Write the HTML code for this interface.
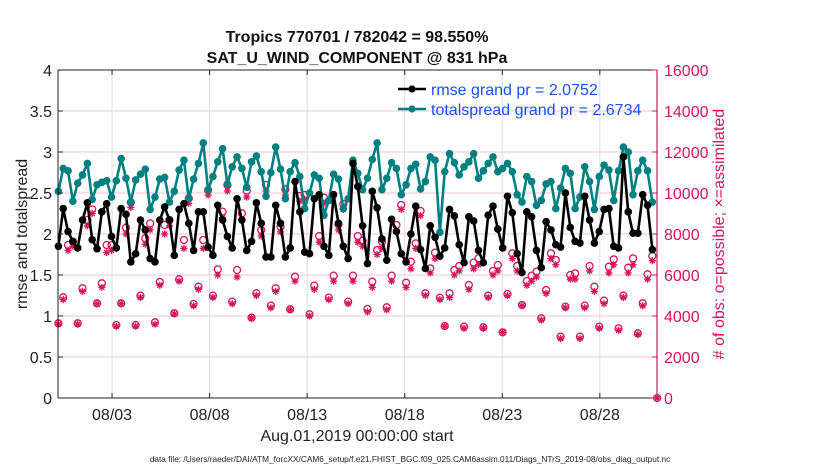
<!DOCTYPE html>
<html><head><meta charset="utf-8"><style>
body{margin:0;background:#fff;width:830px;height:470px;overflow:hidden;font-family:"Liberation Sans",Arial,sans-serif}
svg text{font-family:"Liberation Sans",Arial,sans-serif}
</style></head><body>
<svg id="c" width="830" height="470" viewBox="0 0 830 470"></svg>
<script>
const dateTicks=[2,7,12,17,22,27];
const dateLabels=["08/03","08/08","08/13","08/18","08/23","08/28"];
const leftTicks=[0,0.5,1,1.5,2,2.5,3,3.5,4];
const leftTickLabels=["0","0.5","1","1.5","2","2.5","3","3.5","4"];
const rightTicks=[0,2000,4000,6000,8000,10000,12000,14000,16000];
const rmse=[1.85,2.31,2.03,1.91,1.83,2.17,2.38,1.93,1.82,2.27,2.37,1.97,1.83,2.31,2.24,1.66,1.76,2.17,2.05,1.70,1.66,2.17,2.33,2.17,1.74,2.30,2.37,2.13,1.80,2.27,2.27,1.84,
1.74,2.35,2.17,1.97,1.83,2.43,2.17,1.80,1.91,2.38,2.13,1.72,1.72,2.35,2.13,1.72,1.83,2.64,2.27,1.78,1.76,2.43,2.48,1.85,1.74,2.48,2.13,1.85,1.70,2.86,2.58,
2.10,1.64,2.52,2.32,1.94,1.68,2.18,2.03,1.76,1.66,2.00,2.34,1.81,1.58,2.10,1.96,1.73,1.83,2.30,2.22,1.87,1.65,2.21,2.16,1.80,1.65,2.23,2.34,2.06,1.83,2.46,
2.26,1.76,1.53,2.27,2.21,1.80,1.59,2.15,2.05,1.87,1.84,2.50,2.08,1.91,1.89,2.46,2.17,1.89,2.03,2.30,2.31,1.85,1.83,2.94,2.27,2.01,2.01,2.48,2.35,1.81];
const spread=[2.52,2.80,2.77,2.40,2.62,2.72,2.86,2.42,2.60,2.63,2.65,2.45,2.65,2.92,2.68,2.39,2.66,2.73,2.79,2.30,2.45,2.67,2.69,2.39,2.52,2.78,2.90,2.43,2.67,2.86,3.11,2.54,
2.70,2.88,3.04,2.61,2.82,2.94,2.80,2.57,2.88,2.95,2.76,2.46,2.75,3.06,2.79,2.43,2.76,2.87,2.70,2.31,2.50,2.72,2.68,2.23,2.41,2.73,2.67,2.31,2.43,2.90,2.74,
2.54,2.68,2.91,3.11,2.54,2.68,2.87,2.80,2.48,2.60,2.80,2.85,2.55,2.64,2.94,2.90,2.02,2.76,2.98,2.87,2.72,2.82,2.88,2.98,2.68,2.77,2.86,2.94,2.76,2.80,2.86,
2.76,2.48,2.39,2.70,2.64,2.35,2.41,2.61,2.64,2.31,2.56,2.80,2.74,2.31,2.45,2.82,2.64,2.30,2.70,2.84,2.78,2.41,2.77,3.06,3.00,2.48,2.77,2.90,2.77,2.39];
const obsPossible=[3644,4911,7463,7626,3644,5350,8683,9203,4618,5594,7463,7463,3561,4618,8309,9545,3561,4992,7789,8520,3691,5659,8439,8683,4130,5789,7707,9740,4585,5431,7707,10146,
4992,6276,9090,10390,4700,6244,9008,10113,3919,5106,8195,10390,4505,5350,8357,10179,4326,5919,9854,9902,4082,5480,7902,9773,4895,5968,8471,9463,4700,5968,7902,
7675,4341,5675,7219,7626,4423,5968,8439,9415,5626,6650,7544,9122,5106,6325,7089,4895,3512,5106,6244,6439,3480,5512,6602,6812,3447,4992,6195,6488,3203,5073,
7057,6439,4537,5707,5968,6163,3886,5268,7057,6732,2992,4456,6000,6081,2992,4505,6439,5431,3480,4748,6406,6764,3398,4992,6357,6812,3155,4618,6033,6927,0];
const obsAssim=[3600,4800,7200,7400,3600,5200,8400,9000,4600,5400,7100,7200,3500,4600,8000,9300,3500,4900,7500,8200,3600,5500,8000,8400,4100,5700,7300,9500,4500,5300,7300,9900,
4900,6000,8800,10100,4600,5900,8700,9800,3900,5000,7900,10100,4400,5200,8100,9900,4300,5700,9600,9700,4000,5300,7600,9500,4800,5700,8200,9200,4600,5700,7600,
7400,4200,5400,7000,7300,4300,5700,8200,9200,5400,6300,7300,8900,5000,6100,6800,4800,3500,4900,6000,6200,3400,5300,6300,6500,3400,4900,6000,6200,3200,5000,
6800,6200,4500,5500,5700,5900,3800,5100,6800,6500,2900,4400,5800,5800,2900,4400,6200,5200,3400,4600,6100,6500,3300,4900,6100,6500,3100,4500,5800,6700,0];

const NS="http://www.w3.org/2000/svg";
const svg=document.getElementById('c');
const L=58,R=657,T=70,B=398;
const T0=-0.77,T1=29.93;
const xS=t=>L+(t-T0)/(T1-T0)*(R-L);
const yL=v=>B-v/4*(B-T);
const yR=v=>B-v/16000*(B-T);
const tAt=i=>-0.75+0.2475*i;
const MAG="#d4145a",TEAL="#008080";
function mk(tag,a,p){const e=document.createElementNS(NS,tag);for(const k in a)e.setAttribute(k,a[k]);(p||svg).appendChild(e);return e;}

rightTicks.forEach((v,i)=>{const g=mk('line',{x1:L,x2:R,y1:yR(v),y2:yR(v),stroke:'#f2c6d6','stroke-width':1});

});
dateTicks.forEach(d=>{const g=mk('line',{x1:xS(d),x2:xS(d),y1:T,y2:B,stroke:'#dcdcdc','stroke-width':1});

});

const obsG=mk('g',{});


obsPossible.forEach((v,i)=>{const c=mk('circle',{cx:xS(tAt(i)),cy:yR(v),r:3.5,fill:'none',stroke:MAG,'stroke-width':1.3},obsG);

});
obsAssim.forEach((v,i)=>{const x=xS(tAt(i)),y=yR(v);const g=mk('g',{stroke:MAG,'stroke-width':1.3},obsG);


for(let a=0;a<4;a++){const an=a*Math.PI/4;mk('line',{x1:x-3.6*Math.cos(an),y1:y-3.6*Math.sin(an),x2:x+3.6*Math.cos(an),y2:y+3.6*Math.sin(an)},g);}});

function series(arr,color,name){
  const g=mk('g',{});
  
  
  const pts=arr.map((v,i)=>xS(tAt(i)).toFixed(1)+','+yL(v).toFixed(1)).join(' ');
  mk('polyline',{points:pts,fill:'none',stroke:color,'stroke-width':2.6,'stroke-linejoin':'round'},g);
  arr.forEach((v,i)=>{const c=mk('circle',{cx:xS(tAt(i)),cy:yL(v),r:3.8,fill:color},g);
  
  });
}
series(spread,TEAL,'totalspread-line');
series(rmse,'#000','rmse-line');

const ax=mk('g',{});


mk('line',{x1:L,x2:R,y1:T,y2:T,stroke:'#222','stroke-width':1},ax);
mk('line',{x1:L,x2:R,y1:B,y2:B,stroke:'#222','stroke-width':1},ax);
mk('line',{x1:L,x2:L,y1:T,y2:B,stroke:'#222','stroke-width':1},ax);
mk('line',{x1:R,x2:R,y1:T,y2:B+1,stroke:MAG,'stroke-width':1.2},ax);
leftTicks.forEach((v,i)=>{mk('line',{x1:L,x2:L+5,y1:yL(v),y2:yL(v),stroke:'#222'},ax);
const t=mk('text',{x:L-6,y:yL(v)+6,'text-anchor':'end','font-size':16,fill:'#222'},ax);t.textContent=leftTickLabels[i];

});
rightTicks.forEach(v=>{mk('line',{x1:R-5,x2:R,y1:yR(v),y2:yR(v),stroke:MAG},ax);
const t=mk('text',{x:R+7,y:yR(v)+6,'font-size':16,fill:MAG},ax);t.textContent=String(v);

});
dateTicks.forEach((d,i)=>{mk('line',{x1:xS(d),x2:xS(d),y1:B,y2:B-5,stroke:'#222'},ax);mk('line',{x1:xS(d),x2:xS(d),y1:T,y2:T+5,stroke:'#222'},ax);
const t=mk('text',{x:xS(d),y:B+22,'text-anchor':'middle','font-size':16,fill:'#222'},ax);t.textContent=dateLabels[i];

});
</script>
<svg width="830" height="470" style="position:absolute;left:0;top:0">
<text x="357" y="42" text-anchor="middle" font-size="16" font-weight="bold" fill="#111">Tropics 770701 / 782042 = 98.550%</text>
<text x="357" y="63" text-anchor="middle" font-size="16" font-weight="bold" fill="#111">SAT_U_WIND_COMPONENT @ 831 hPa</text>
<text transform="translate(27,234) rotate(-90)" text-anchor="middle" font-size="16" fill="#222">rmse and totalspread</text>
<text transform="translate(724,234) rotate(-90)" text-anchor="middle" font-size="16" fill="#d4145a"># of obs: o=possible; ×=assimilated</text>
<text x="357" y="441" text-anchor="middle" font-size="16" fill="#222">Aug.01,2019 00:00:00 start</text>
<text x="410" y="462" text-anchor="middle" font-size="8.3" fill="#222">data file: /Users/raeder/DAI/ATM_forcXX/CAM6_setup/f.e21.FHIST_BGC.f09_025.CAM6assim.011/Diags_NTrS_2019-08/obs_diag_output.nc</text>
<g>
<g>
<line x1="398" x2="426" y1="89" y2="89" stroke="#000" stroke-width="2.6"/><circle cx="412" cy="89" r="3.6" fill="#000"/>
<text x="431" y="95" font-size="16" fill="#1a4dff">rmse grand pr = 2.0752</text></g>
<g>
<line x1="398" x2="426" y1="109" y2="109" stroke="#008080" stroke-width="2.6"/><circle cx="412" cy="109" r="3.6" fill="#008080"/>
<text x="431" y="115" font-size="16" fill="#1a4dff">totalspread grand pr = 2.6734</text></g>
</g>
</svg>
</body></html>
